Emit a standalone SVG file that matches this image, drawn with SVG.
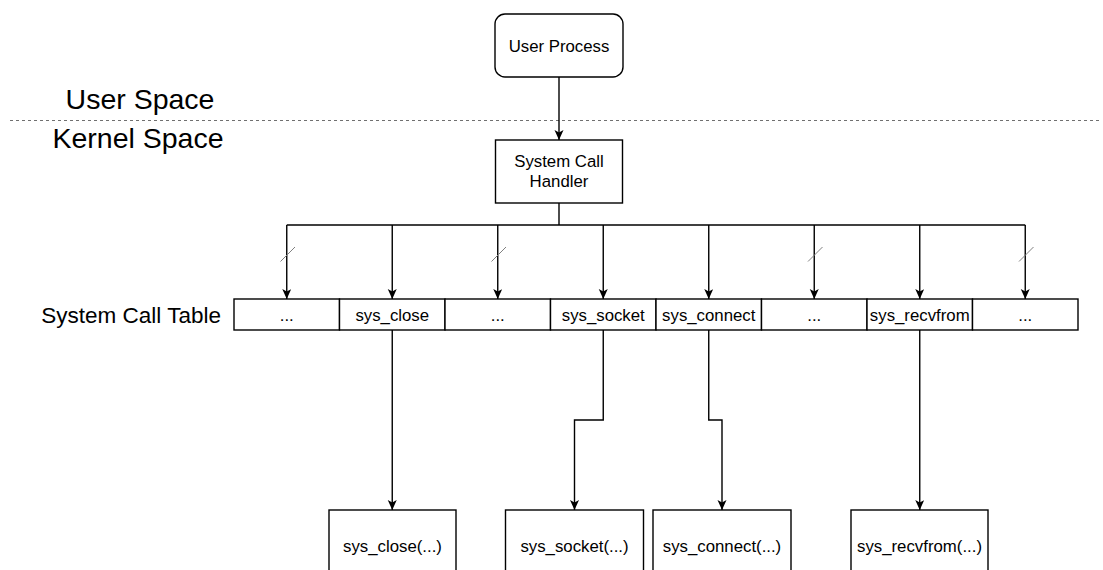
<svg xmlns="http://www.w3.org/2000/svg" width="1103" height="570" viewBox="0 0 1103 570">
  <style>
    .box { fill: #ffffff; stroke: #000000; stroke-width: 1.4; }
    .cell { fill: #ffffff; stroke: #000000; stroke-width: 1.4; }
    .lbl { font-family: "Liberation Sans", Arial, sans-serif; font-size: 16.8px; fill: #000000; text-anchor: middle; }
    .big { font-family: "Liberation Sans", Arial, sans-serif; font-size: 28.5px; fill: #000000; text-anchor: middle; }
    .side { font-family: "Liberation Sans", Arial, sans-serif; font-size: 22.5px; fill: #000000; text-anchor: end; }
    .wire { fill: none; stroke: #000000; stroke-width: 1.4; }
    .arrow { fill: none; stroke: #000000; stroke-width: 1.4; marker-end: url(#head); }
    .slash { stroke: #808080; stroke-width: 1; }
    .divider { stroke: #707070; stroke-width: 1.2; stroke-dasharray: 3 3; }
  </style>
  <defs>
    <marker id="head" markerUnits="userSpaceOnUse" markerWidth="12" markerHeight="10" refX="10" refY="4.5" orient="auto">
      <path d="M0,0 L10,4.5 L0,9 L2.5,4.5 z" fill="#000000"/>
    </marker>
  </defs>

  <!-- boundary between user and kernel space -->
  <line class="divider" x1="10" y1="120.5" x2="1101" y2="120.5"/>
  <text class="big" x="140" y="109">User Space</text>
  <text class="big" x="138" y="148">Kernel Space</text>
  <text class="side" x="221" y="323">System Call Table</text>

  <g id="user-process">
    <rect class="box" x="495" y="14" width="128" height="63" rx="10" ry="10"/>
    <text class="lbl" x="559" y="51.5">User Process</text>
  </g>

  <g id="syscall-handler">
    <rect class="box" x="495.5" y="140" width="127" height="63"/>
    <text class="lbl" x="559" y="167">System Call</text>
    <text class="lbl" x="559" y="187">Handler</text>
  </g>

  <g id="syscall-table">
    <rect class="cell" x="234" y="299" width="105.5" height="31"/>
    <rect class="cell" x="339.5" y="299" width="105.5" height="31"/>
    <rect class="cell" x="445" y="299" width="105.5" height="31"/>
    <rect class="cell" x="550.5" y="299" width="105.5" height="31"/>
    <rect class="cell" x="656" y="299" width="105.5" height="31"/>
    <rect class="cell" x="761.5" y="299" width="105.5" height="31"/>
    <rect class="cell" x="867" y="299" width="105.5" height="31"/>
    <rect class="cell" x="972.5" y="299" width="105.5" height="31"/>
    <text class="lbl" x="286.75" y="321">...</text>
    <text class="lbl" x="392.25" y="321">sys_close</text>
    <text class="lbl" x="497.75" y="321">...</text>
    <text class="lbl" x="603.25" y="321">sys_socket</text>
    <text class="lbl" x="708.75" y="321">sys_connect</text>
    <text class="lbl" x="814.25" y="321">...</text>
    <text class="lbl" x="919.75" y="321">sys_recvfrom</text>
    <text class="lbl" x="1025.25" y="321">...</text>
  </g>

  <g id="impl-close">
    <rect class="box" x="329" y="510" width="127" height="74"/>
    <text class="lbl" x="392.5" y="552">sys_close(...)</text>
  </g>
  <g id="impl-socket">
    <rect class="box" x="505.5" y="510" width="138" height="74"/>
    <text class="lbl" x="574.5" y="552">sys_socket(...)</text>
  </g>
  <g id="impl-connect">
    <rect class="box" x="653" y="510" width="138" height="74"/>
    <text class="lbl" x="722" y="552">sys_connect(...)</text>
  </g>
  <g id="impl-recvfrom">
    <rect class="box" x="851" y="510" width="137" height="74"/>
    <text class="lbl" x="919.5" y="552">sys_recvfrom(...)</text>
  </g>

  <g id="connectors">
    <line class="arrow" x1="559" y1="77" x2="559" y2="140"/>
    <!-- handler fans out to every table slot -->
    <line class="wire" x1="559" y1="203" x2="559" y2="225"/>
    <line class="wire" x1="286.75" y1="225" x2="1025.25" y2="225"/>
    <line class="arrow" x1="286.75" y1="225" x2="286.75" y2="299"/>
    <line class="arrow" x1="392.25" y1="225" x2="392.25" y2="299"/>
    <line class="arrow" x1="497.75" y1="225" x2="497.75" y2="299"/>
    <line class="arrow" x1="603.25" y1="225" x2="603.25" y2="299"/>
    <line class="arrow" x1="708.75" y1="225" x2="708.75" y2="299"/>
    <line class="arrow" x1="814.25" y1="225" x2="814.25" y2="299"/>
    <line class="arrow" x1="919.75" y1="225" x2="919.75" y2="299"/>
    <line class="arrow" x1="1025.25" y1="225" x2="1025.25" y2="299"/>
    <!-- break marks on the unnamed slots -->
    <line class="slash" x1="280.5" y1="261.5" x2="295" y2="247"/>
    <line class="slash" x1="491.5" y1="261.5" x2="506" y2="247"/>
    <line class="slash" x1="808" y1="261.5" x2="822.5" y2="247"/>
    <line class="slash" x1="1019" y1="261.5" x2="1033.5" y2="247"/>
    <!-- table slots to their implementations -->
    <line class="arrow" x1="392.25" y1="330" x2="392.25" y2="510"/>
    <polyline class="arrow" points="603.25,330 603.25,420 574.5,420 574.5,510"/>
    <polyline class="arrow" points="708.75,330 708.75,420 722,420 722,510"/>
    <line class="arrow" x1="919.75" y1="330" x2="919.75" y2="510"/>
  </g>
</svg>
